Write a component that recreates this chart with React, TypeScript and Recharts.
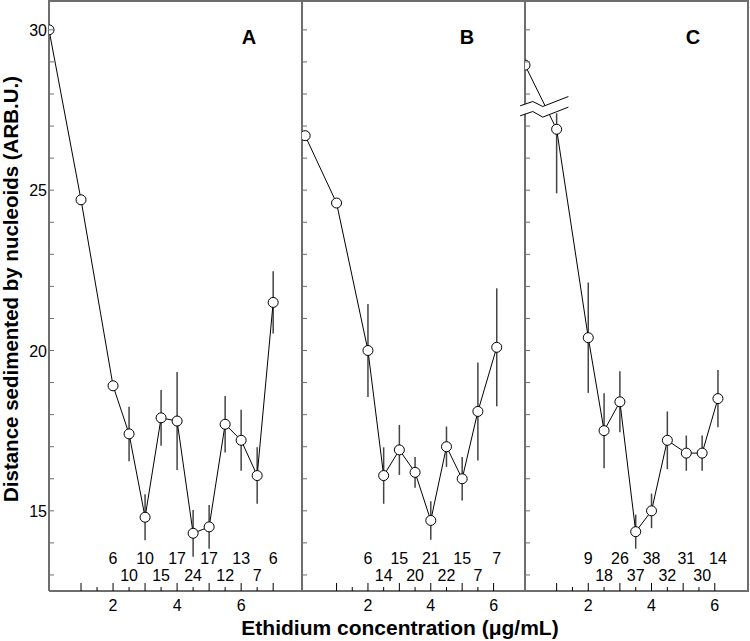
import React from "react";
import { ComposedChart, Line, Scatter, XAxis, YAxis, ErrorBar, ReferenceDot } from "recharts";

// panel A
const xA = [0, 1, 2, 2.5, 3, 3.5, 4, 4.5, 5, 5.5, 6, 6.5, 7];
const yA = [30.0, 24.7, 18.9, 17.4, 14.8, 17.9, 17.8, 14.3, 14.5, 17.7, 17.2, 16.1, 21.5];
const errA = [0, 0, 0, 0.85, 0.72, 0.87, 1.53, 0.73, 0.68, 0.88, 0.95, 0.88, 0.97];
const nXA = [2, 2.5, 3, 3.5, 4, 4.5, 5, 5.5, 6, 6.5, 7];
const nA = [6, 10, 10, 15, 17, 24, 17, 12, 13, 7, 6];

// panel B
const xB = [0, 1, 2, 2.5, 3, 3.5, 4, 4.5, 5, 5.5, 6.1];
const yB = [26.7, 24.6, 20.0, 16.1, 16.9, 16.2, 14.7, 17.0, 16.0, 18.1, 20.1];
const errB = [0, 0, 1.45, 0.88, 0.78, 0.48, 0.6, 0.63, 0.68, 1.53, 1.84];
const nXB = [2, 2.5, 3, 3.5, 4, 4.5, 5, 5.5, 6.1];
const nB = [6, 14, 15, 20, 21, 22, 15, 7, 7];

// panel C (first point sits above the axis break)
const xC = [0, 1, 2, 2.5, 3, 3.5, 4, 4.5, 5.1, 5.6, 6.1];
const yC = [28.9, 26.9, 20.4, 17.5, 18.4, 14.35, 15.0, 17.2, 16.8, 16.8, 18.5];
const errC: (number | number[])[] = [0, [2.0, 0.5], 1.72, 1.17, 0.95, 0.53, 0.54, 0.9, 0.55, 0.55, 0.89];
const nXC = [2, 2.5, 3, 3.5, 4, 4.5, 5.1, 5.6, 6.1];
const nC = [9, 18, 26, 37, 38, 32, 31, 30, 14];

const xTicksA = [1, 1.5, 2, 2.5, 3, 3.5, 4, 4.5, 5, 5.5, 6, 6.5, 7];
const xTicksBC = [1, 1.5, 2, 2.5, 3, 3.5, 4, 4.5, 5, 5.5, 6];
const yTicks = [13, 14, 15, 16, 17, 18, 19, 20, 21, 22, 23, 24, 25, 26, 27, 28, 29, 30];

const Y_DOMAIN = [12.5, 30.9];
const ROW1 = 13.54;
const ROW2 = 13.0;
const FRAME = "#6e6e6e";
const FONT = "'Liberation Sans', Arial, sans-serif";

const build = (xs: number[], ys: number[], errs: (number | number[])[]) =>
    xs.map((x, i) => ({ x, y: ys[i], err: errs[i] }));

const buildN = (xs: number[], ns: number[]) =>
    xs.map((x, i) => ({ x, y: i % 2 === 0 ? ROW1 : ROW2, n: ns[i] }));

const XTick = (props: any) => {
    const { x, y, payload } = props;
    const v = payload.value;
    const major = Number.isInteger(v);
    return (
        <g>
            <line x1={x} x2={x} y1={y} y2={y - (major ? 8 : 4)} stroke="#000" strokeWidth={1} />
            {major && v % 2 === 0 && (
                <text x={x} y={y + 20} textAnchor="middle" fontSize={16} fontFamily={FONT} fill="#000">{v}</text>
            )}
        </g>
    );
};

const YTick = (props: any) => {
    const { x, y, payload, showLabel } = props;
    const v = payload.value;
    return (
        <g>
            <line x1={x} x2={x + 5} y1={y} y2={y} stroke={FRAME} strokeWidth={1} />
            {showLabel && v % 5 === 0 && (
                <text x={x - 2} y={y + 6} textAnchor="end" fontSize={16} fontFamily={FONT} fill="#000">{v}</text>
            )}
        </g>
    );
};

const NLabel = (props: any) => (
    <text x={props.cx} y={props.cy + 6} textAnchor="middle" fontSize={16} fontFamily={FONT} fill="#000">
        {props.payload.n}
    </text>
);

const AxisBreak = (props: any) => {
    const { cx, cy } = props;
    const up = [[-24.5, -1], [-11.8, -5.3], [-1.8, -0.3], [23.8, -10.3]];
    const lo = [[-24.5, 9], [-11.8, 4.7], [-1.8, 10.3], [23.8, 0.3]];
    const pts = (arr: number[][]) => arr.map(([dx, dy]) => `${cx + dx},${cy + dy}`).join(" ");
    return (
        <g>
            <polygon points={pts([...up, ...[...lo].reverse()])} fill="#fff" stroke="none" />
            <polyline points={pts(up)} fill="none" stroke="#000" strokeWidth={1} />
            <polyline points={pts(lo)} fill="none" stroke="#000" strokeWidth={1} />
        </g>
    );
};

interface PanelProps {
    left: number;
    width: number;
    axisWidth: number;
    xDomain: number[];
    xTicks: number[];
    data: any[];
    labels: any[];
    showYLabels?: boolean;
    children?: React.ReactNode;
}

function Panel({ left, width, axisWidth, xDomain, xTicks, data, labels, showYLabels, children }: PanelProps) {
    return (
        <div style={{ position: "absolute", left, top: 0 }}>
            <ComposedChart width={width} height={641} margin={{ top: 1, right: 0, bottom: 0, left: 0 }}>
                <XAxis
                    type="number"
                    dataKey="x"
                    domain={xDomain}
                    ticks={xTicks}
                    interval={0}
                    allowDataOverflow
                    height={50}
                    tickSize={0}
                    tickMargin={0}
                    tickLine={false}
                    axisLine={{ stroke: FRAME, strokeWidth: 2 }}
                    tick={(p: any) => <XTick {...p} />} />
                <YAxis
                    type="number"
                    dataKey="y"
                    domain={Y_DOMAIN}
                    ticks={yTicks}
                    interval={0}
                    allowDataOverflow
                    width={axisWidth}
                    tickSize={0}
                    tickMargin={0}
                    tickLine={false}
                    axisLine={{ stroke: FRAME, strokeWidth: 2 }}
                    tick={(p: any) => <YTick {...p} showLabel={showYLabels} />} />
                <Line
                    data={data}
                    dataKey="y"
                    type="linear"
                    stroke="#000"
                    strokeWidth={1}
                    dot={{ r: 5, fill: "#fff", stroke: "#000", strokeWidth: 1 }}
                    isAnimationActive={false}>
                    <ErrorBar dataKey="err" direction="y" width={0} stroke="#444" strokeWidth={1.5} isAnimationActive={false} />
                </Line>
                <Scatter data={labels} dataKey="y" shape={NLabel} isAnimationActive={false} />
                {children}
            </ComposedChart>
        </div>
    );
}

export default function App() {
    const dataA = build(xA, yA, errA);
    const dataB = build(xB, yB, errB);
    const dataC = build(xC, yC, errC);

    return (
        <div style={{ position: "absolute", left: 0, top: 0, width: 750, height: 641, background: "#fff", fontFamily: FONT }}>
            <Panel left={0} width={302} axisWidth={49} xDomain={[0, 7.9]} xTicks={xTicksA}
                data={dataA} labels={buildN(nXA, nA)} showYLabels />
            <Panel left={292} width={233} axisWidth={10} xDomain={[-0.1, 7.0]} xTicks={xTicksBC}
                data={dataB} labels={buildN(nXB, nB)} />
            <Panel left={500} width={248} axisWidth={25} xDomain={[0, 7.05]} xTicks={xTicksBC}
                data={dataC} labels={buildN(nXC, nC)}>
                <ReferenceDot x={0.62} y={27.6} shape={AxisBreak} zIndex={2000} />
            </Panel>
            <svg width={750} height={641} style={{ position: "absolute", left: 0, top: 0, pointerEvents: "none" }}>
                <line x1={48} x2={749} y1={1} y2={1} stroke={FRAME} strokeWidth={2} />
                <line x1={748} x2={748} y1={0} y2={592} stroke={FRAME} strokeWidth={2} />
                <text x={249} y={44} textAnchor="middle" fontSize={20} fontWeight="bold" fontFamily={FONT}>A</text>
                <text x={467} y={44} textAnchor="middle" fontSize={20} fontWeight="bold" fontFamily={FONT}>B</text>
                <text x={693} y={44} textAnchor="middle" fontSize={20} fontWeight="bold" fontFamily={FONT}>C</text>
                <text x={400} y={635} textAnchor="middle" fontSize={21} fontWeight="bold" fontFamily={FONT}>
                    Ethidium concentration (μg/mL)
                </text>
                <text x={0} y={0} transform="translate(18,289) rotate(-90)" textAnchor="middle" fontSize={20.5}
                    fontWeight="bold" fontFamily={FONT}>
                    Distance sedimented by nucleoids (ARB.U.)
                </text>
            </svg>
        </div>
    );
}
